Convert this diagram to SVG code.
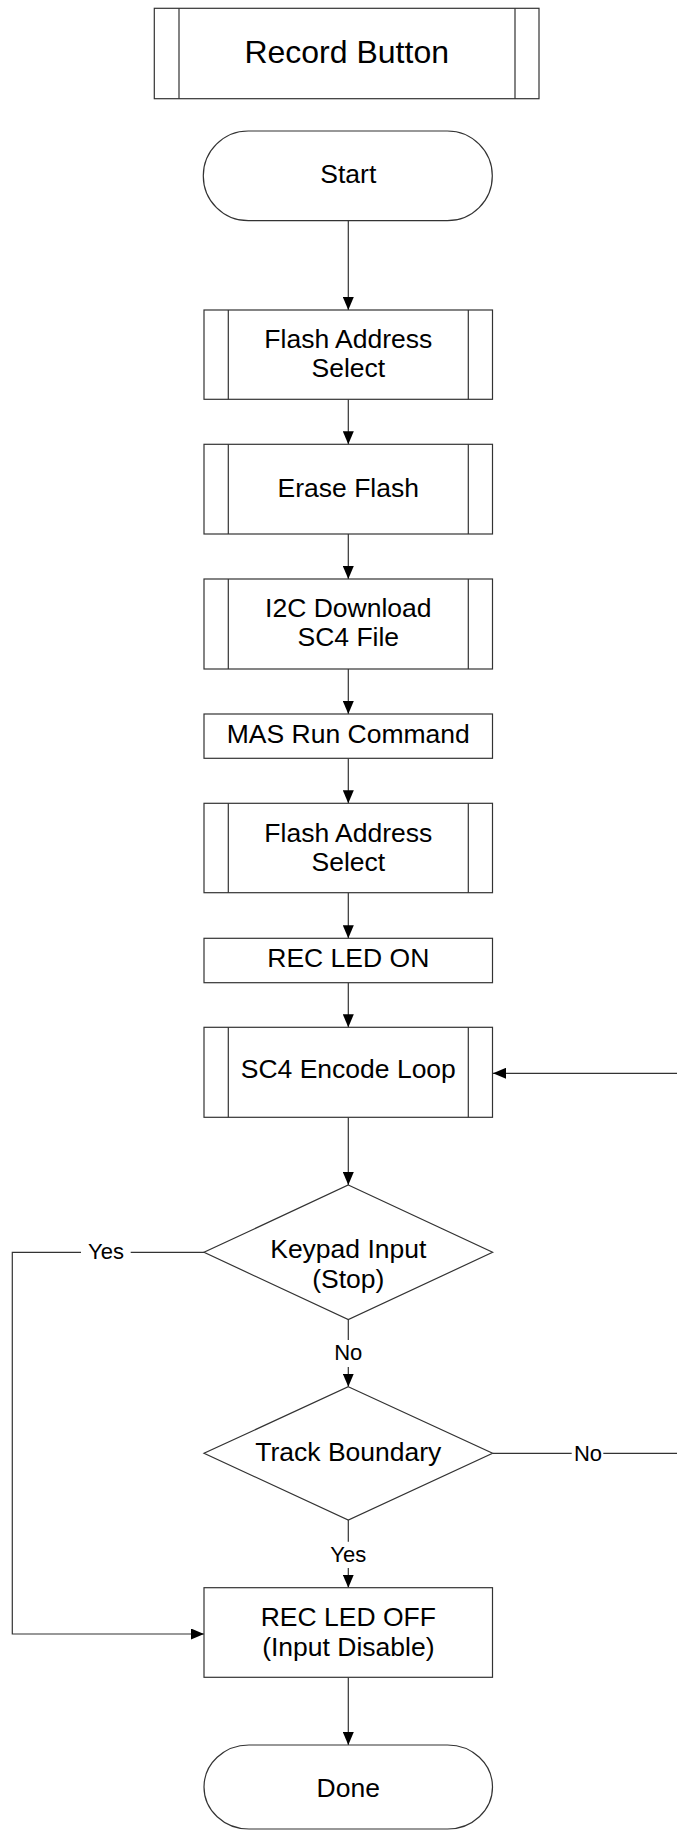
<svg xmlns="http://www.w3.org/2000/svg" width="677" height="1831" viewBox="0 0 677 1831">
<defs>
<marker id="arr" markerUnits="userSpaceOnUse" markerWidth="13" markerHeight="11" refX="13" refY="5.5" orient="auto">
<path d="M0,0 L13,5.5 L0,11 z" fill="#000"/>
</marker>
</defs>
<style>
.s{fill:#fff;stroke:#333;stroke-width:1.2}
.l{fill:none;stroke:#333;stroke-width:1.2}
.c{fill:none;stroke:#333;stroke-width:1.2}
.t{font-family:"Liberation Sans",Arial,sans-serif;font-size:26.5px;fill:#000;text-anchor:middle}
.lb{font-family:"Liberation Sans",Arial,sans-serif;font-size:22px;fill:#000;text-anchor:middle}
</style>
<rect width="677" height="1831" fill="#fff"/>
<g id="connectors">
<path class="c" d="M348.3,220.7 V310" marker-end="url(#arr)"/>
<path class="c" d="M348.3,399.3 V444.3" marker-end="url(#arr)"/>
<path class="c" d="M348.3,534 V579" marker-end="url(#arr)"/>
<path class="c" d="M348.3,669 V714" marker-end="url(#arr)"/>
<path class="c" d="M348.3,758.3 V803.3" marker-end="url(#arr)"/>
<path class="c" d="M348.3,892.7 V938.3" marker-end="url(#arr)"/>
<path class="c" d="M348.3,982.7 V1027.3" marker-end="url(#arr)"/>
<path class="c" d="M348.3,1117.3 V1185" marker-end="url(#arr)"/>
<path class="c" d="M348.3,1319.6 V1340"/>
<path class="c" d="M348.3,1367 V1386.7" marker-end="url(#arr)"/>
<text class="lb" x="348.3" y="1360">No</text>
<path class="c" d="M204,1252.3 H130.7"/>
<path class="c" d="M81,1252.3 H12.3 V1634 H204" marker-end="url(#arr)"/>
<text class="lb" x="106" y="1259">Yes</text>
<path class="c" d="M492.6,1453.3 H571.7"/>
<path class="c" d="M603.3,1453.3 H700 V1073.3 H493" marker-end="url(#arr)"/>
<text class="lb" x="588" y="1461">No</text>
<path class="c" d="M348.3,1520 V1541.7"/>
<path class="c" d="M348.3,1568 V1587.7" marker-end="url(#arr)"/>
<text class="lb" x="348.3" y="1562">Yes</text>
<path class="c" d="M348.3,1677.3 V1745" marker-end="url(#arr)"/>
</g>
<g id="record-button">
<rect class="s" x="154.3" y="8.3" width="384.7" height="90.4"/>
<path class="l" d="M179,8.3 V98.7 M515,8.3 V98.7"/>
<text class="t" x="346.7" y="63" style="font-size:32px">Record Button</text>
</g>
<g id="start">
<rect class="s" x="203.3" y="131" width="289" height="89.7" rx="45" ry="44.8"/>
<text class="t" x="348.3" y="183.3">Start</text>
</g>
<g id="flash-address-1">
<rect class="s" x="204" y="310" width="288.5" height="89.3"/>
<path class="l" d="M228.3,310 V399.3 M468.3,310 V399.3"/>
<text class="t" x="348.3" y="348.3">Flash Address</text>
<text class="t" x="348.3" y="377.3">Select</text>
</g>
<g id="erase-flash">
<rect class="s" x="204" y="444.3" width="288.5" height="89.7"/>
<path class="l" d="M228.3,444.3 V534 M468.3,444.3 V534"/>
<text class="t" x="348.3" y="496.7">Erase Flash</text>
</g>
<g id="i2c-download">
<rect class="s" x="204" y="579" width="288.5" height="90"/>
<path class="l" d="M228.3,579 V669 M468.3,579 V669"/>
<text class="t" x="348.3" y="616.7">I2C Download</text>
<text class="t" x="348.3" y="646">SC4 File</text>
</g>
<g id="mas-run">
<rect class="s" x="204" y="714" width="288.5" height="44.3"/>
<text class="t" x="348.3" y="743.3">MAS Run Command</text>
</g>
<g id="flash-address-2">
<rect class="s" x="204" y="803.3" width="288.5" height="89.4"/>
<path class="l" d="M228.3,803.3 V892.7 M468.3,803.3 V892.7"/>
<text class="t" x="348.3" y="841.7">Flash Address</text>
<text class="t" x="348.3" y="870.7">Select</text>
</g>
<g id="rec-led-on">
<rect class="s" x="204" y="938.3" width="288.5" height="44.4"/>
<text class="t" x="348.3" y="967.3">REC LED ON</text>
</g>
<g id="sc4-encode">
<rect class="s" x="204" y="1027.3" width="288.5" height="90"/>
<path class="l" d="M228.3,1027.3 V1117.3 M468.3,1027.3 V1117.3"/>
<text class="t" x="348.3" y="1078.3">SC4 Encode Loop</text>
</g>
<g id="keypad-input">
<path class="s" d="M348.3,1185 L492.6,1252.3 L348.3,1319.6 L204,1252.3 Z"/>
<text class="t" x="348.3" y="1258.3">Keypad Input</text>
<text class="t" x="348.3" y="1288">(Stop)</text>
</g>
<g id="track-boundary">
<path class="s" d="M348.3,1386.7 L492.6,1453.3 L348.3,1520 L204,1453.3 Z"/>
<text class="t" x="348.3" y="1460.7">Track Boundary</text>
</g>
<g id="rec-led-off">
<rect class="s" x="204" y="1587.7" width="288.5" height="89.6"/>
<text class="t" x="348.3" y="1626">REC LED OFF</text>
<text class="t" x="348.3" y="1655.7">(Input Disable)</text>
</g>
<g id="done">
<rect class="s" x="204" y="1745" width="288.5" height="84" rx="45" ry="42"/>
<text class="t" x="348.3" y="1797.3">Done</text>
</g>
</svg>
